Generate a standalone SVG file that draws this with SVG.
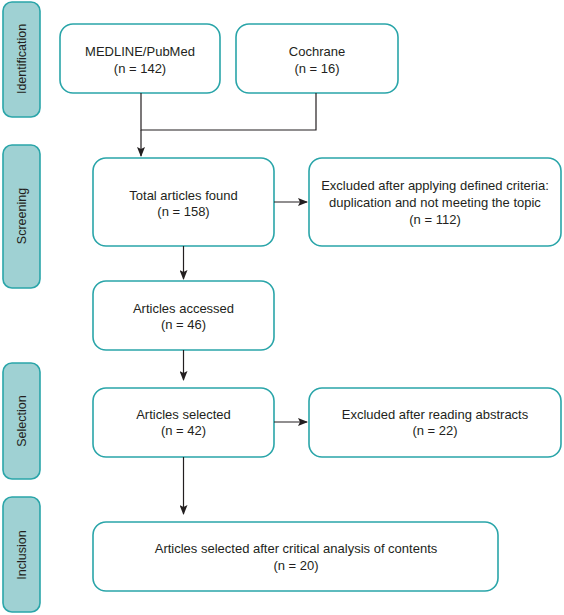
<svg xmlns="http://www.w3.org/2000/svg" width="564" height="615" viewBox="0 0 564 615">
<defs>
<style>
.box{fill:#fff;stroke:#2aa5a9;stroke-width:1.6}
.side{fill:#9fd1d3;stroke:#2aa5a9;stroke-width:1.6}
.t{font-family:"Liberation Sans",Arial,sans-serif;font-size:13px;fill:#231f20;text-anchor:middle}
.n{font-family:"Liberation Sans",Arial,sans-serif;font-size:13px;fill:#231f20;text-anchor:middle;font-weight:300}
.s{font-family:"Liberation Sans",Arial,sans-serif;font-size:12.5px;fill:#231f20;text-anchor:middle}
.c{fill:none;stroke:#231f20;stroke-width:1.2}
</style>
<marker id="ah" markerWidth="10" markerHeight="8" refX="9" refY="4" orient="auto" markerUnits="userSpaceOnUse">
<path d="M0,0 L10,4 L0,8 L2,4 z" fill="#231f20"/>
</marker>
</defs>
<rect width="564" height="615" fill="#fff"/>
<g id="phase-identification">
<rect class="side" x="3" y="2" width="37" height="115" rx="9"/>
<text class="s" transform="translate(26,59) rotate(-90)">Identification</text>
</g>
<g id="phase-screening">
<rect class="side" x="3" y="145" width="37" height="143" rx="9"/>
<text class="s" transform="translate(26,216) rotate(-90)">Screening</text>
</g>
<g id="phase-selection">
<rect class="side" x="3" y="363" width="37" height="116" rx="9"/>
<text class="s" transform="translate(26,421) rotate(-90)">Selection</text>
</g>
<g id="phase-inclusion">
<rect class="side" x="3" y="497" width="37" height="115" rx="9"/>
<text class="s" transform="translate(26,555) rotate(-90)">Inclusion</text>
</g>
<g id="medline">
<rect class="box" x="60" y="24" width="160" height="69" rx="13"/>
<text class="t" x="140" y="56">MEDLINE/PubMed</text>
<text class="n" x="140" y="73">(n = 142)</text>
</g>
<g id="cochrane">
<rect class="box" x="236" y="24" width="162" height="69" rx="13"/>
<text class="t" x="317" y="56">Cochrane</text>
<text class="n" x="317" y="73">(n = 16)</text>
</g>
<g id="total">
<rect class="box" x="93" y="158" width="181" height="88" rx="13"/>
<text class="t" x="183.5" y="200">Total articles found</text>
<text class="n" x="183.5" y="216">(n = 158)</text>
</g>
<g id="excluded1">
<rect class="box" x="309" y="158" width="252" height="88" rx="13"/>
<text class="t" x="435" y="190">Excluded after applying defined criteria:</text>
<text class="t" x="435" y="207">duplication and not meeting the topic</text>
<text class="n" x="435" y="224">(n = 112)</text>
</g>
<g id="accessed">
<rect class="box" x="93" y="281" width="181" height="69" rx="13"/>
<text class="t" x="183.5" y="313">Articles accessed</text>
<text class="n" x="183.5" y="329">(n = 46)</text>
</g>
<g id="selected">
<rect class="box" x="93" y="388" width="181" height="69" rx="13"/>
<text class="t" x="183.5" y="419">Articles selected</text>
<text class="n" x="183.5" y="435">(n = 42)</text>
</g>
<g id="excluded2">
<rect class="box" x="309" y="388" width="252" height="69" rx="13"/>
<text class="t" x="435" y="419">Excluded after reading abstracts</text>
<text class="n" x="435" y="435">(n = 22)</text>
</g>
<g id="included">
<rect class="box" x="93" y="522" width="405" height="69" rx="13"/>
<text class="t" x="296" y="553">Articles selected after critical analysis of contents</text>
<text class="n" x="296" y="570">(n = 20)</text>
</g>
<g id="connectors">
<polyline class="c" points="141,93 141,130 316,130 316,93"/>
<line class="c" x1="141" y1="130" x2="141" y2="156" marker-end="url(#ah)"/>
<line class="c" x1="183.5" y1="246" x2="183.5" y2="279" marker-end="url(#ah)"/>
<line class="c" x1="274" y1="202" x2="307" y2="202" marker-end="url(#ah)"/>
<line class="c" x1="183.5" y1="350" x2="183.5" y2="380" marker-end="url(#ah)"/>
<line class="c" x1="274" y1="422" x2="307" y2="422" marker-end="url(#ah)"/>
<line class="c" x1="183.5" y1="457" x2="183.5" y2="514" marker-end="url(#ah)"/>
</g>
</svg>
